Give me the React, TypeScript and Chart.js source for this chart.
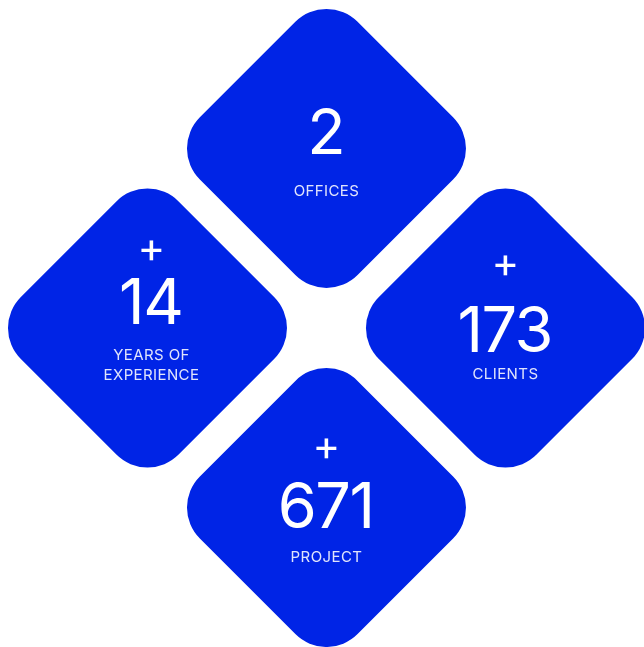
import { useEffect, useRef } from "react";
import { Chart, registerables } from "chart.js";

Chart.register(...registerables);

// ---- data ----
const statLabels = ["OFFICES", "YEARS OF EXPERIENCE", "CLIENTS", "PROJECT"];
const statLabelLines = [["OFFICES"], ["YEARS OF", "EXPERIENCE"], ["CLIENTS"], ["PROJECT"]];
const statValues = [2, 14, 173, 671];
const statPrefix = ["", "+", "+", "+"];

// ---- layout (lattice slots for the diamonds) ----
const slotCol = [0, -1, 1, 0];
const slotRow = [1, 0, 0, -1];

// ---- styles ----
const BLUE = "rgb(0, 36, 230)";
const TIP = 139.5; // half diagonal of the diamond, px
const CORNER = 44; // corner radius, px
const textDx = [0, 4, 0, 0];
const numberDy = [6, -4, 24, 20];
const plusDy = [0, -77, -62, -59];
const labelDy = [[48], [32, 52], [51], [54]];

function roundedDiamond(ctx: CanvasRenderingContext2D, cx: number, cy: number) {
  const s = TIP + CORNER * (Math.SQRT2 - 1);
  ctx.beginPath();
  ctx.moveTo(cx + s / 2, cy - s / 2);
  ctx.arcTo(cx + s, cy, cx, cy + s, CORNER);
  ctx.arcTo(cx, cy + s, cx - s, cy, CORNER);
  ctx.arcTo(cx - s, cy, cx, cy - s, CORNER);
  ctx.arcTo(cx, cy - s, cx + s, cy, CORNER);
  ctx.closePath();
}

const diamondPlugin = {
  id: "statDiamonds",
  afterDatasetsDraw(chart: any) {
    const ctx: CanvasRenderingContext2D = chart.ctx;
    const meta = chart.getDatasetMeta(0);
    meta.data.forEach((pt: any, i: number) => {
      const { x, y } = pt.getProps(["x", "y"], true);
      ctx.save();
      roundedDiamond(ctx, x, y);
      ctx.fillStyle = BLUE;
      ctx.fill();

      const tx = x + textDx[i];
      ctx.textAlign = "center";
      ctx.fillStyle = "#ffffff";

      // plus prefix
      if (statPrefix[i]) {
        ctx.font = "400 42px Inter";
        ctx.textBaseline = "alphabetic";
        const m = ctx.measureText(statPrefix[i]);
        const h = m.actualBoundingBoxAscent - m.actualBoundingBoxDescent;
        ctx.fillText(statPrefix[i], tx, y + plusDy[i] + h / 2);
      }

      // number
      ctx.font = "400 63px Inter";
      (ctx as any).letterSpacing = "-1.5px";
      ctx.textBaseline = "alphabetic";
      ctx.fillText(String(statValues[i]), tx - 0.75, y + numberDy[i]);

      // label
      ctx.font = "400 15px Inter";
      ctx.fillStyle = "rgba(255,255,255,0.88)";
      (ctx as any).letterSpacing = "0.4px";
      statLabelLines[i].forEach((line, j) => {
        ctx.fillText(line, tx, y + labelDy[i][j]);
      });
      ctx.restore();
    });
  },
};

export default function App() {
  const ref = useRef<HTMLCanvasElement | null>(null);
  useEffect(() => {
    if (!ref.current) return;
    const chart = new Chart(ref.current, {
      type: "scatter",
      data: {
        labels: statLabels,
        datasets: [
          {
            label: "stats",
            data: slotCol.map((c, i) => ({ x: c, y: slotRow[i] })),
            pointRadius: 0,
            pointHoverRadius: 0,
          },
        ],
      },
      options: {
        responsive: false,
        animation: false,
        events: [],
        layout: { padding: 0 },
        plugins: { legend: { display: false }, tooltip: { enabled: false } },
        scales: {
          x: { type: "linear", display: false, min: -1.824, max: 1.774 },
          y: { type: "linear", display: false, min: -1.777, max: 1.827 },
        },
      },
      plugins: [diamondPlugin],
    });
    return () => chart.destroy();
  }, []);
  return (
    <div style={{ position: "absolute", left: 0, top: 0, width: 644, height: 647, background: "#fff" }}>
      <canvas ref={ref} width={644} height={647} />
    </div>
  );
}
